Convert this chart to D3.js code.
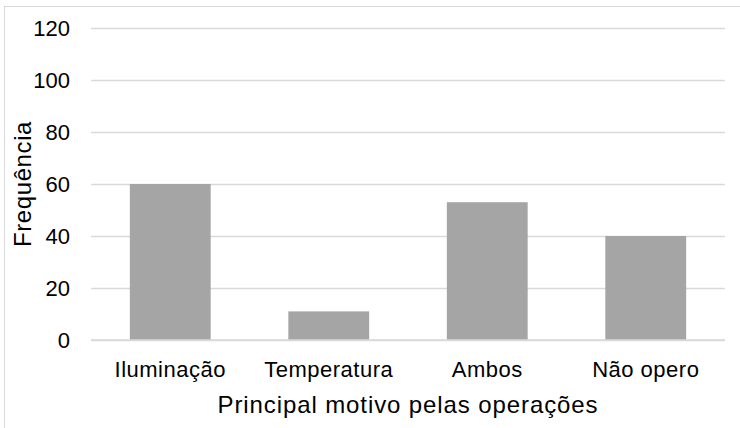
<!DOCTYPE html>
<html>
<head>
<meta charset="utf-8">
<script src="https://cdn.jsdelivr.net/npm/d3@7"></script>
<style>
  body { margin: 0; background: #fff; }
  text { font-family: "Liberation Sans", Arial, sans-serif; fill: #000; }
</style>
</head>
<body>
<svg width="740" height="428"></svg>
<script>
var categories = ["Iluminação", "Temperatura", "Ambos", "Não opero"];
var values = [60, 11, 53, 40];
var yTicks = [0, 20, 40, 60, 80, 100, 120];

var svg = d3.select("svg"),
  margin = {top: 28, right: 15, bottom: 88, left: 91},
  width = 740 - margin.left - margin.right,
  height = 428 - margin.top - margin.bottom;

// chart border
svg.append("rect")
  .attr("x", 4.5).attr("y", 6.5)
  .attr("width", 740).attr("height", 440)
  .attr("fill", "none")
  .attr("stroke", "#d9d9d9");

var g = svg.append("g")
  .attr("transform", "translate(" + margin.left + "," + margin.top + ")");

var x = d3.scaleBand().domain(categories).range([0, width]).paddingInner(0.49).paddingOuter(0.245);
var y = d3.scaleLinear().domain([0, 120]).range([height, 0]);

// gridlines
g.append("g")
  .call(d3.axisLeft(y).tickValues(yTicks).tickSize(-width).tickFormat(""))
  .call(function(a) { a.select(".domain").remove(); })
  .selectAll("line").attr("stroke", "#d9d9d9").attr("stroke-width", 1.3);

var data = categories.map(function(c, i) { return {cat: c, val: values[i]}; });

g.selectAll(".bar")
  .data(data)
  .enter()
  .append("rect")
  .attr("class", "bar")
  .attr("x", function(d) { return x(d.cat); })
  .attr("y", function(d) { return y(d.val); })
  .attr("width", x.bandwidth())
  .attr("height", function(d) { return height - y(d.val); })
  .attr("fill", "#a5a5a5");

// x axis baseline
g.append("line")
  .attr("x1", 0).attr("x2", width)
  .attr("y1", height).attr("y2", height)
  .attr("stroke", "#d9d9d9").attr("stroke-width", 1.3);

// y tick labels
var ya = g.append("g")
  .call(d3.axisLeft(y).tickValues(yTicks).tickSize(0).tickPadding(21));
ya.select(".domain").remove();
ya.selectAll("text")
  .style("font-size", "22px")
  .style("font-family", "Liberation Sans, Arial, sans-serif")
  .attr("fill", "#000");

// x tick labels
var xa = g.append("g")
  .attr("transform", "translate(0," + height + ")")
  .call(d3.axisBottom(x).tickSize(0).tickPadding(21));
xa.select(".domain").remove();
xa.selectAll("text")
  .style("font-size", "22px")
  .style("letter-spacing", "0.5px")
  .style("font-family", "Liberation Sans, Arial, sans-serif")
  .attr("fill", "#000");

// axis titles
svg.append("text")
  .attr("x", margin.left + width / 2)
  .attr("y", 413)
  .attr("text-anchor", "middle")
  .style("font-size", "24px")
  .style("letter-spacing", "0.9px")
  .text("Principal motivo pelas operações");

svg.append("text")
  .attr("transform", "translate(31," + (margin.top + height / 2) + ") rotate(-90)")
  .attr("text-anchor", "middle")
  .style("font-size", "24px")
  .style("letter-spacing", "0.6px")
  .text("Frequência");
</script>
</body>
</html>
